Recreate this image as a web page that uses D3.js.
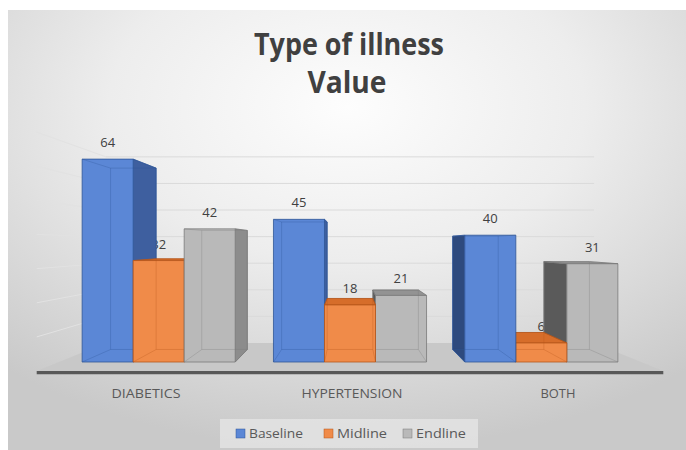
<!DOCTYPE html>
<html>
<head>
<meta charset="utf-8">
<script src="https://cdn.jsdelivr.net/npm/d3@7"></script>
<style>
  html, body { margin: 0; padding: 0; background: #ffffff; }
  svg { display: block; }
  text { font-family: "Open Sans", "Noto Sans", sans-serif; }
</style>
</head>
<body>
<svg id="chart" width="686" height="450"></svg>
<script>
// ---- data ----
const categories = ["DIABETICS", "HYPERTENSION", "BOTH"];
const seriesNames = ["Baseline", "Midline", "Endline"];
const baselineValues = [64, 45, 40];
const midlineValues = [32, 18, 6];
const endlineValues = [42, 21, 31];
const valueTicks = [0, 10, 20, 30, 40, 50, 60, 70];
const titleLines = ["Type of illness", "Value"];

// ---- styling ----
const palette = {
  Baseline: { front: "#5b87d6", right: "#3e5f9f", left: "#2e4a7e", top: "#4a75c6", edge: "#2f5597" },
  Midline:  { front: "#f08b49", right: "#c9692a", left: "#b75c22", top: "#d66d2a", edge: "#b5561b" },
  Endline:  { front: "#b9b9b9", right: "#8c8c8c", left: "#5a5a5a", top: "#939393", edge: "#7a7a7a" }
};

const svg = d3.select("#chart");
const W = 686, H = 450;

// ---- perspective projection (one vanishing point) ----
const VP = { x: 350, y: 244 };
const K = 0.1186;            // depth foreshortening
function proj(x, y, z) {
  const s = 1 / (1 + K * z);
  return [VP.x + (x - VP.x) * s, VP.y + (y - VP.y) * s];
}
const FLOOR_FRONT = -0.6, FLOOR_BACK = 1.62;

// ---- scales ----
const x0 = d3.scaleBand().domain(categories).range([63, 637]).paddingInner(0.2).paddingOuter(0.1);
const x1 = d3.scaleBand().domain(seriesNames).range([0, x0.bandwidth()]);
const y = d3.scaleLinear().domain([0, 70]).range([362, 362 - 70 * 3.17]);
const floorX = [x0.range()[0] - 4, x0.range()[1] + 4];

// ---- background ----
const defs = svg.append("defs");
const bg = defs.append("radialGradient").attr("id", "bgGrad")
  .attr("cx", "50%").attr("cy", "22%").attr("r", "78%");
bg.append("stop").attr("offset", "0%").attr("stop-color", "#fdfdfd");
bg.append("stop").attr("offset", "45%").attr("stop-color", "#ededed");
bg.append("stop").attr("offset", "100%").attr("stop-color", "#c9c9c9");

svg.append("rect").attr("x", 8).attr("y", 10).attr("width", W - 8).attr("height", H - 10)
  .attr("fill", "url(#bgGrad)");

// ---- title ----
const title = svg.append("g").attr("fill", "#404040").attr("font-weight", 700).attr("font-size", 30);
title.append("text").attr("x", 349).attr("y", 55).attr("text-anchor", "middle")
  .attr("textLength", 190).attr("lengthAdjust", "spacingAndGlyphs").text(titleLines[0]);
title.append("text").attr("x", 347).attr("y", 93).attr("text-anchor", "middle")
  .attr("textLength", 79).attr("lengthAdjust", "spacingAndGlyphs").text(titleLines[1]);

const line = d3.line();

// ---- walls: gridlines on back wall and left side wall ----
const grid = svg.append("g").attr("stroke-width", 1).attr("fill", "none");
valueTicks.filter(v => v > 0).forEach(v => {
  const yy = y(v);
  grid.append("path").attr("d", line([proj(floorX[0], yy, FLOOR_BACK), proj(floorX[1], yy, FLOOR_BACK)]))
    .attr("stroke", "#dadada");
  grid.append("path").attr("d", line([proj(floorX[0], yy, FLOOR_FRONT), proj(floorX[0], yy, FLOOR_BACK)]))
    .attr("stroke", "#e2e2e2");
});

// ---- floor ----
const y0 = y(0);
svg.append("path")
  .attr("d", line([proj(floorX[0], y0, FLOOR_FRONT), proj(floorX[1], y0, FLOOR_FRONT),
                   proj(floorX[1], y0, FLOOR_BACK), proj(floorX[0], y0, FLOOR_BACK)]) + "Z")
  .attr("fill", "#c8c8c8");
svg.append("path")
  .attr("d", line([proj(floorX[0], y0, FLOOR_FRONT), proj(floorX[1], y0, FLOOR_FRONT),
                   proj(floorX[1], y0 + 3, FLOOR_FRONT), proj(floorX[0], y0 + 3, FLOOR_FRONT)]) + "Z")
  .attr("fill", "#585858");

// ---- bars ----
const seriesValues = { Baseline: baselineValues, Midline: midlineValues, Endline: endlineValues };
const bars = [];
categories.forEach((c, i) => {
  seriesNames.forEach(s => {
    const xa = x0(c) + x1(s), xb = xa + x1.bandwidth();
    bars.push({ cat: c, series: s, value: seriesValues[s][i], xa, xb });
  });
});

// value labels sit behind the boxes
const labels = svg.append("g").attr("fill", "#404040").attr("font-size", 13).attr("text-anchor", "middle");
bars.forEach(b => {
  labels.append("text").attr("x", (b.xa + b.xb) / 2).attr("y", y(b.value) - 12).text(b.value);
});

// far-from-centre boxes first so nearer ones overlap them
const order = bars.slice().sort((a, b) =>
  Math.abs((b.xa + b.xb) / 2 - VP.x) - Math.abs((a.xa + a.xb) / 2 - VP.x));

const barLayer = svg.append("g");
order.forEach(b => {
  const col = palette[b.series];
  const yt = y(b.value), yb = y(0);
  const g = barLayer.append("g");
  const poly = pts => line(pts) + "Z";
  const F = { tl: proj(b.xa, yt, 0), tr: proj(b.xb, yt, 0), br: proj(b.xb, yb, 0), bl: proj(b.xa, yb, 0) };
  const B = { tl: proj(b.xa, yt, 1), tr: proj(b.xb, yt, 1), br: proj(b.xb, yb, 1), bl: proj(b.xa, yb, 1) };

  // visible side
  if (b.xb < VP.x) {
    g.append("path").attr("d", poly([F.tr, B.tr, B.br, F.br])).attr("fill", col.right)
      .attr("stroke", col.edge).attr("stroke-width", 0.8);
  } else if (b.xa > VP.x) {
    g.append("path").attr("d", poly([F.tl, B.tl, B.bl, F.bl])).attr("fill", col.left)
      .attr("stroke", col.edge).attr("stroke-width", 0.8);
  }
  // top face when seen from above
  if (yt > VP.y) {
    g.append("path").attr("d", poly([F.tl, F.tr, B.tr, B.tl])).attr("fill", col.top)
      .attr("stroke", col.edge).attr("stroke-width", 0.8);
  }
  // front face
  g.append("path").attr("d", poly([F.tl, F.tr, F.br, F.bl])).attr("fill", col.front)
    .attr("stroke", col.edge).attr("stroke-width", 0.8);
  // faint hidden edges seen through the face
  const hidden = g.append("g").attr("stroke", col.edge).attr("stroke-opacity", 0.3)
    .attr("stroke-width", 1).attr("fill", "none");
  hidden.append("path").attr("d", poly([B.tl, B.tr, B.br, B.bl]));
  ["tl", "tr", "br", "bl"].forEach(k =>
    hidden.append("path").attr("d", line([F[k], B[k]])));
});

// ---- category axis labels ----
const catWidths = { DIABETICS: 69, HYPERTENSION: 101, BOTH: 35 };
svg.append("g").attr("fill", "#595959").attr("font-size", 13).attr("text-anchor", "middle")
  .selectAll("text").data(categories).join("text")
  .attr("x", c => proj(x0(c) + x0.bandwidth() / 2, y0, FLOOR_FRONT)[0] + 2)
  .attr("y", 398)
  .attr("textLength", c => catWidths[c]).attr("lengthAdjust", "spacingAndGlyphs")
  .text(c => c);

// ---- legend ----
const legend = svg.append("g");
legend.append("rect").attr("x", 220).attr("y", 419).attr("width", 258).attr("height", 29)
  .attr("fill", "#e5e5e5").attr("fill-opacity", 0.8);
const legendX = [236, 324, 403];
const legendW = { Baseline: 54, Midline: 50, Endline: 50 };
seriesNames.forEach((s, i) => {
  legend.append("rect").attr("x", legendX[i]).attr("y", 429).attr("width", 9).attr("height", 9)
    .attr("fill", palette[s].front).attr("stroke", palette[s].edge).attr("stroke-width", 0.5);
  legend.append("text").attr("x", legendX[i] + 13).attr("y", 438).attr("fill", "#595959")
    .attr("font-size", 13).attr("textLength", legendW[s]).attr("lengthAdjust", "spacingAndGlyphs")
    .text(s);
});
</script>
</body>
</html>
